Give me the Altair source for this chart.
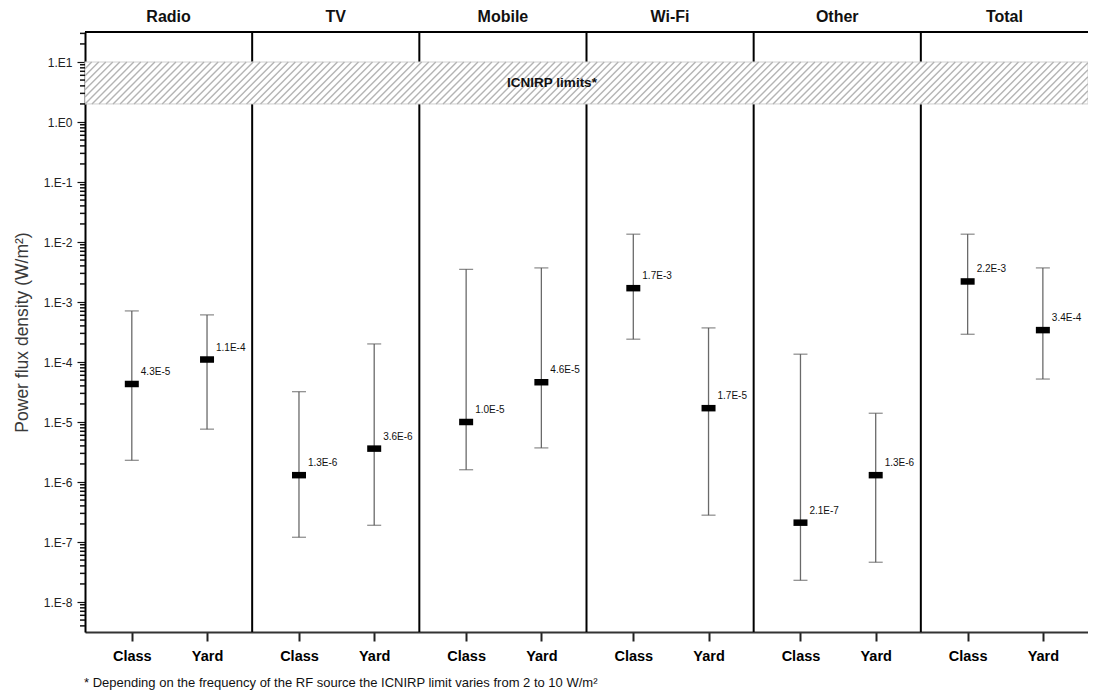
import altair as alt
import pandas as pd

# ---------------- data ----------------
categories = ["Radio", "TV", "Mobile", "Wi-Fi", "Other", "Total"]
locations = ["Class", "Yard"]

median_class = [4.3e-5, 1.3e-6, 1.0e-5, 1.7e-3, 2.1e-7, 2.2e-3]
median_yard = [1.1e-4, 3.6e-6, 4.6e-5, 1.7e-5, 1.3e-6, 3.4e-4]
upper_class = [7.1e-4, 3.2e-5, 3.5e-3, 1.35e-2, 1.35e-4, 1.35e-2]
upper_yard = [6.1e-4, 2.0e-4, 3.7e-3, 3.7e-4, 1.4e-5, 3.7e-3]
lower_class = [2.3e-6, 1.2e-7, 1.6e-6, 2.4e-4, 2.3e-8, 2.9e-4]
lower_yard = [7.6e-6, 1.9e-7, 3.7e-6, 2.8e-7, 4.6e-8, 5.2e-5]
label_class = ["4.3E-5", "1.3E-6", "1.0E-5", "1.7E-3", "2.1E-7", "2.2E-3"]
label_yard = ["1.1E-4", "3.6E-6", "4.6E-5", "1.7E-5", "1.3E-6", "3.4E-4"]

icnirp_limits = [2, 10]
major_exponents = [1, 0, -1, -2, -3, -4, -5, -6, -7, -8]
minor_multipliers = [2, 3, 4, 5, 6, 7, 8, 9]

footnote = "* Depending on the frequency of the RF source the ICNIRP limit varies from 2 to 10 W/m\u00b2"
y_title = "Power flux density (W/m\u00b2)"

# ---------------- layout ----------------
W, H = 1003, 600
FONT = "Arial, 'Liberation Sans', sans-serif"
slot = {"Class": 0.28, "Yard": 0.73}
NCAT = len(categories)

rows = []
for i, c in enumerate(categories):
    for loc, med, lo, hi, lab in [
        ("Class", median_class[i], lower_class[i], upper_class[i], label_class[i]),
        ("Yard", median_yard[i], lower_yard[i], upper_yard[i], label_yard[i]),
    ]:
        rows.append(dict(category=c, location=loc, pos=i + slot[loc],
                         median=med, lower=lo, upper=hi, label=lab))
df = pd.DataFrame(rows)

cat_df = pd.DataFrame({"category": categories,
                       "center": [i + 0.5 for i in range(NCAT)]})
sep_df = pd.DataFrame({"sep": list(range(1, NCAT))})
band_df = pd.DataFrame({"lo": [icnirp_limits[0]], "hi": [icnirp_limits[1]]})

x_ticks = [i + slot[l] for i in range(NCAT) for l in locations]
y_major = [float(10.0 ** e) for e in major_exponents]
y_minor = []
for e in [2] + major_exponents:
    for m in minor_multipliers:
        v = float(m) * 10.0 ** (e - 1)
        if 10 ** -8.5 <= v <= 10 ** 1.5:
            y_minor.append(float(f"{v:.3g}"))
minor_df = pd.DataFrame({"v": y_minor})

xscale = alt.Scale(domain=[0, NCAT], nice=False, zero=False)
yscale = alt.Scale(type="log", domain=[10 ** -8.5, 10 ** 1.5], nice=False)

xaxis = alt.Axis(values=x_ticks, title=None, grid=False,
                 labelExpr="(datum.value % 1) < 0.5 ? 'Class' : 'Yard'",
                 tickSize=9, tickWidth=2, tickColor="#222",
                 domainColor="#333", domainWidth=2,
                 labelFont=FONT, labelFontWeight="bold", labelFontSize=14.5,
                 labelColor="black", labelPadding=8, labelFlush=False,
                 labelOverlap=False)
yaxis = alt.Axis(values=y_major, title=y_title, grid=False,
                 labelExpr="'1.E' + round(log(datum.value)/LN10)",
                 tickSize=8, tickWidth=1.2, tickColor="#111",
                 domainColor="black", domainWidth=2,
                 labelFont=FONT, labelFontSize=12, labelColor="#222",
                 labelPadding=5, labelOverlap=False, labelFlush=False,
                 titleFont=FONT, titleFontSize=17.5, titleFontWeight="normal",
                 titleColor="#3a3a3a", titlePadding=12)


def X(field, **kw):
    return alt.X(field, scale=xscale, axis=xaxis, **kw)


def Y(field, **kw):
    return alt.Y(field, scale=yscale, axis=yaxis, **kw)


# separators between panels
seps = alt.Chart(sep_df).mark_rule(color="black", strokeWidth=2).encode(
    x=X("sep:Q"))

# minor log ticks on the y axis
minor = alt.Chart(minor_df).mark_rule(strokeWidth=1.5, color="#111").encode(
    x=alt.value(-5), x2=alt.value(0), y=Y("v:Q"))

# ICNIRP band (white background with light border)
band = alt.Chart(band_df).mark_rect(fill="white", stroke="#d0d0d0", strokeWidth=1).encode(
    x=alt.value(0), x2=alt.value(W),
    y=Y("lo:Q"), y2="hi:Q")

# hatch lines inside the band, trimmed to the band's x extent
D = 0.25
STEP = 0.042
hatch = (
    alt.Chart(alt.sequence(-8, 150, as_="k"))
    .transform_calculate(
        x0=f"datum.k * {STEP}",
        lo=str(icnirp_limits[0]),
        hi=str(icnirp_limits[1]),
    )
    .transform_calculate(
        t0=f"max(0, (0 - datum.x0) / {D})",
        t1=f"min(1, ({NCAT} - datum.x0) / {D})",
    )
    .transform_filter("datum.t0 < datum.t1")
    .transform_calculate(
        xs=f"datum.x0 + datum.t0 * {D}",
        xe=f"datum.x0 + datum.t1 * {D}",
        ys="datum.lo * pow(datum.hi / datum.lo, datum.t0)",
        ye="datum.lo * pow(datum.hi / datum.lo, datum.t1)",
    )
    .mark_rule(color="#b4b4b4", strokeWidth=1.4)
    .encode(x=X("xs:Q"), x2="xe:Q", y=Y("ys:Q"), y2="ye:Q")
)

band_text = alt.Chart(band_df).mark_text(
    text="ICNIRP limits*", font=FONT, fontSize=13.5, fontWeight="bold",
    color="#111", align="center", baseline="middle").encode(
    x=alt.value(467), y=alt.value(51))

# error bars
whisk = alt.Chart(df).mark_rule(color="#6a6a6a", strokeWidth=1.3).encode(
    x=X("pos:Q"), y=Y("lower:Q"), y2="upper:Q")
cap_hi = alt.Chart(df).mark_tick(color="#555", orient="horizontal", size=14,
                                 thickness=1.2).encode(x=X("pos:Q"), y=Y("upper:Q"))
cap_lo = alt.Chart(df).mark_tick(color="#555", orient="horizontal", size=14,
                                 thickness=1.2).encode(x=X("pos:Q"), y=Y("lower:Q"))
marker = alt.Chart(df).mark_tick(color="black", orient="horizontal", size=14,
                                 thickness=6.5, opacity=1).encode(
    x=X("pos:Q"), y=Y("median:Q"))
labels = alt.Chart(df).mark_text(align="left", baseline="middle", dx=9, dy=-12,
                                 font=FONT, fontSize=10, color="#111").encode(
    x=X("pos:Q"), y=Y("median:Q"), text="label:N")

# panel titles
titles = alt.Chart(cat_df).mark_text(font=FONT, fontSize=16, fontWeight="bold",
                                     color="#111", baseline="middle").encode(
    x=X("center:Q"), y=alt.value(-15), text="category:N")

# top frame line
top = alt.Chart(band_df).mark_rule(color="black", strokeWidth=2).encode(
    x=alt.value(0), x2=alt.value(W), y=alt.value(0))

# footnote
note = alt.Chart(band_df).mark_text(text=footnote, align="left", baseline="middle",
                                    font=FONT, fontSize=13, color="#111").encode(
    x=alt.value(-1), y=alt.value(H + 51))

chart = alt.layer(
    seps, band, hatch, band_text, whisk, cap_hi, cap_lo, marker, labels,
    titles, top, note, minor
).properties(
    width=W, height=H,
    padding={"left": 77, "top": 24, "right": 0, "bottom": 60},
    autosize=alt.AutoSizeParams(type="none"),
).configure_view(stroke=None).configure(font=FONT)

chart.save("out.html", embed_options={"renderer": "svg", "actions": False})
